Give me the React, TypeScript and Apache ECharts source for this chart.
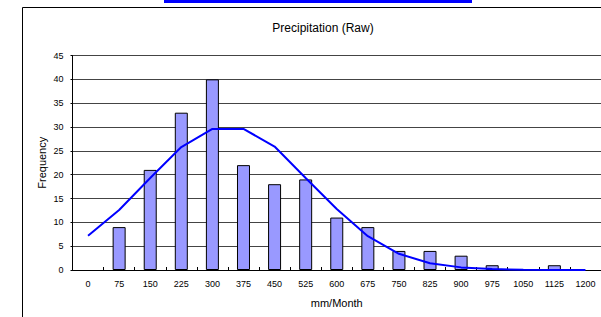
import React, { useEffect, useRef } from "react";
import * as echarts from "echarts";

const categories = ["0","75","150","225","300","375","450","525","600","675","750","825","900","975","1050","1125","1200"];
const frequency = [0, 9, 21, 33, 40, 22, 18, 19, 11, 9, 4, 4, 3, 1, 0, 1, 0];
const fitted = [7.2, 12.6, 19.3, 25.8, 29.6, 29.6, 25.9, 19.3, 12.8, 7.1, 3.4, 1.4, 0.55, 0.2, 0.05, 0.01, 0];
const titleText = "Precipitation (Raw)";
const xName = "mm/Month";
const yName = "Frequency";

const FONT = "'Liberation Sans', Arial, sans-serif";

export default function App() {
  const ref = useRef<HTMLDivElement>(null);
  useEffect(() => {
    document.body.style.margin = "0";
    const chart = echarts.init(ref.current!, null, { renderer: "svg" });
    chart.setOption({
      animation: false,
      backgroundColor: "#ffffff",
      textStyle: { fontFamily: FONT },
      title: {
        text: titleText,
        left: 318,
        top: 17,
        textAlign: "center",
        textStyle: { fontSize: 12, fontWeight: "normal", color: "#000", fontFamily: FONT },
      },
      graphic: [
        { type: "rect", shape: { x: 22.5, y: 7.5, width: 620, height: 330 }, style: { fill: "none", stroke: "#000", lineWidth: 1 }, silent: true },
        { type: "rect", shape: { x: 164, y: 0, width: 308, height: 3 }, style: { fill: "#0000ff" }, silent: true },
      ],
      grid: { left: 72.5, top: 55.5, width: 533, height: 214.5, containLabel: false },
      xAxis: {
        type: "category",
        data: categories,
        boundaryGap: true,
        name: xName,
        nameLocation: "middle",
        nameGap: 27,
        nameMoveOverlap: false,
        nameTextStyle: { fontSize: 11, color: "#000", fontFamily: FONT },
        axisLine: { lineStyle: { color: "#000", width: 1 } },
        axisTick: { show: true, inside: true, length: 3, alignWithLabel: false, lineStyle: { color: "#000" } },
        axisLabel: { fontSize: 9, color: "#000", margin: 9, interval: 0, fontFamily: FONT },
        splitLine: { show: false },
      },
      yAxis: {
        type: "value",
        min: 0,
        max: 45,
        interval: 5,
        name: yName,
        nameLocation: "middle",
        nameGap: 25,
        nameMoveOverlap: false,
        nameRotate: 90,
        nameTextStyle: { fontSize: 11, color: "#000", fontFamily: FONT },
        axisLine: { show: true, lineStyle: { color: "#000", width: 1 } },
        axisTick: { show: true, length: 2, lineStyle: { color: "#000" } },
        axisLabel: { fontSize: 9, color: "#000", margin: 9, fontFamily: FONT },
        splitLine: { show: true, lineStyle: { color: "#444", width: 1 } },
      },
      series: [
        {
          type: "bar",
          data: frequency.map((v) => (v === 0 ? null : v)),
          barWidth: 13,
          itemStyle: { color: "#9999ff", borderColor: "#000", borderWidth: 1 },
        },
        {
          type: "line",
          data: fitted,
          symbol: "none",
          smooth: false,
          lineStyle: { color: "#0000ff", width: 2 },
        },
      ],
    });
    return () => chart.dispose();
  }, []);
  return <div ref={ref} style={{ width: 601, height: 317 }} />;
}
